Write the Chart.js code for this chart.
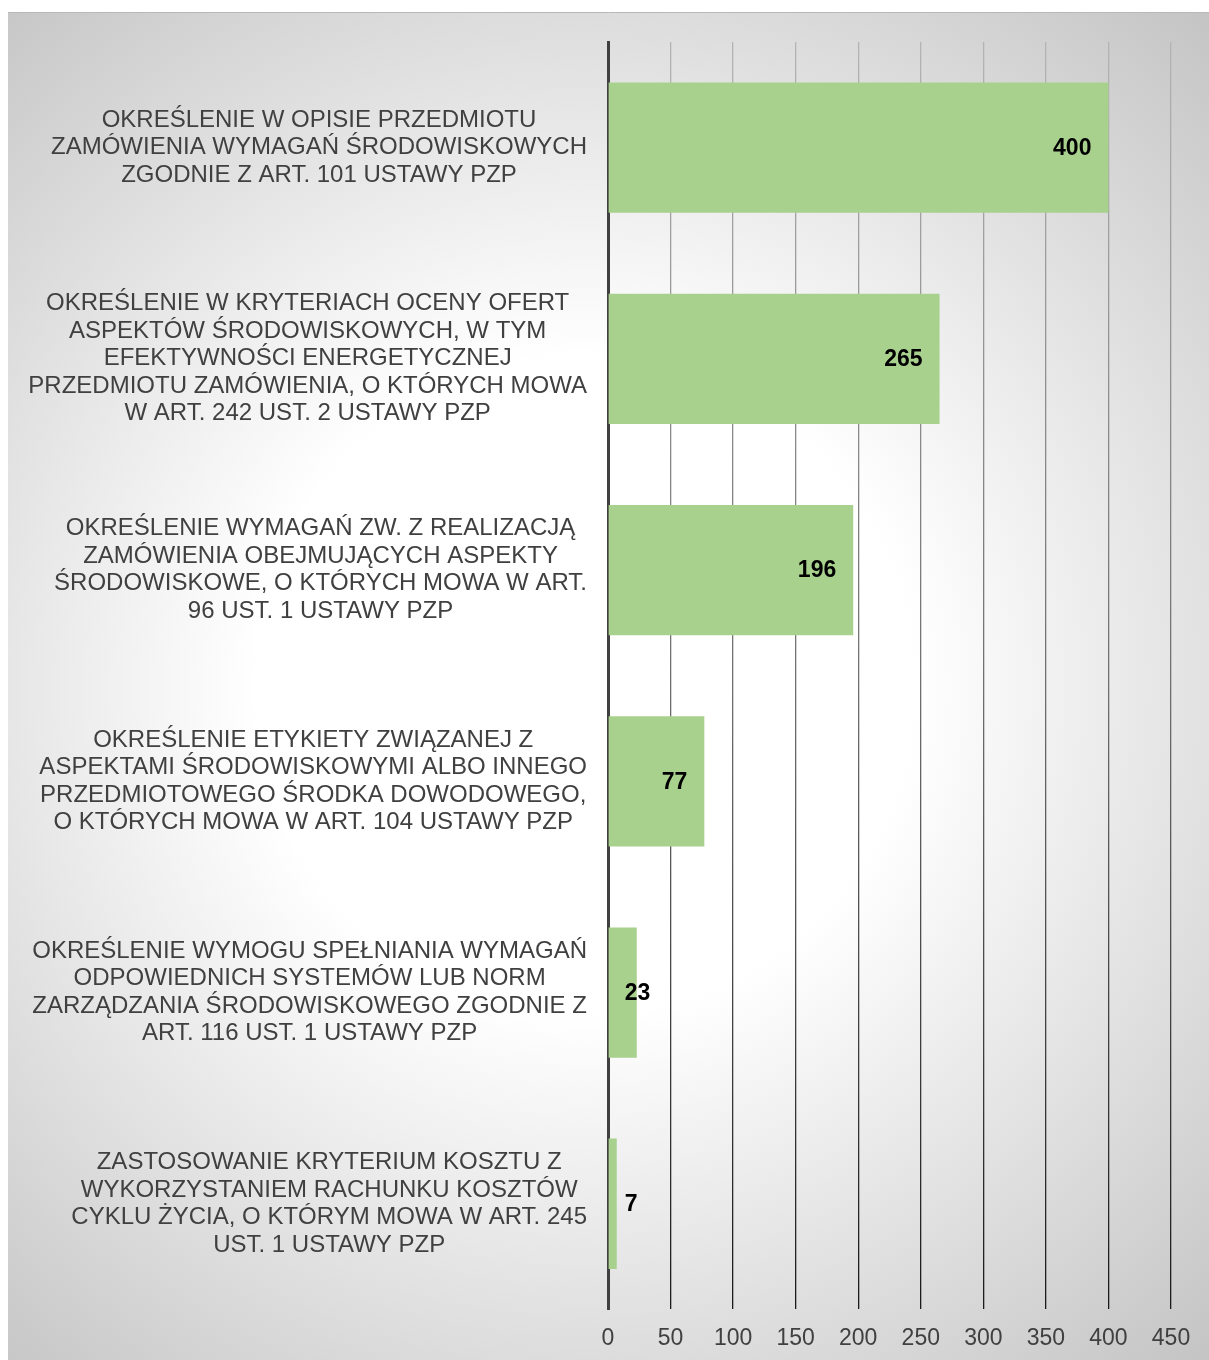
<!DOCTYPE html>
<html>
<head>
<meta charset="utf-8">
<script src="https://cdn.jsdelivr.net/npm/chart.js@4/dist/chart.umd.min.js"></script>
<style>
    body { margin: 0; background: #fff; }
    #wrap { position: absolute; left: 8px; top: 12px; width: 1201px; height: 1348px; overflow: hidden; }
</style>
</head>
<body>
<div id="wrap"><canvas id="eco_chart" width="1201" height="1363"></canvas></div>
<script>
// kategorie (podzielone na linie) i liczba postępowań
const categories = [
    ["OKREŚLENIE W OPISIE PRZEDMIOTU", "ZAMÓWIENIA WYMAGAŃ ŚRODOWISKOWYCH", "ZGODNIE Z ART. 101 USTAWY PZP"],
    ["OKREŚLENIE W KRYTERIACH OCENY OFERT", "ASPEKTÓW ŚRODOWISKOWYCH, W TYM", "EFEKTYWNOŚCI ENERGETYCZNEJ", "PRZEDMIOTU ZAMÓWIENIA, O KTÓRYCH MOWA", "W ART. 242 UST. 2 USTAWY PZP"],
    ["OKREŚLENIE WYMAGAŃ ZW. Z REALIZACJĄ", "ZAMÓWIENIA OBEJMUJĄCYCH ASPEKTY", "ŚRODOWISKOWE, O KTÓRYCH MOWA W ART.", "96 UST. 1 USTAWY PZP"],
    ["OKREŚLENIE ETYKIETY ZWIĄZANEJ Z", "ASPEKTAMI ŚRODOWISKOWYMI ALBO INNEGO", "PRZEDMIOTOWEGO ŚRODKA DOWODOWEGO,", "O KTÓRYCH MOWA W ART. 104 USTAWY PZP"],
    ["OKREŚLENIE WYMOGU SPEŁNIANIA WYMAGAŃ", "ODPOWIEDNICH SYSTEMÓW LUB NORM", "ZARZĄDZANIA ŚRODOWISKOWEGO ZGODNIE Z", "ART. 116 UST. 1 USTAWY PZP"],
    ["ZASTOSOWANIE KRYTERIUM KOSZTU Z", "WYKORZYSTANIEM RACHUNKU KOSZTÓW", "CYKLU ŻYCIA, O KTÓRYM MOWA W ART. 245", "UST. 1 USTAWY PZP"]
];
const counts = [400, 265, 196, 77, 23, 7];
const axisMin = 0;
const axisMax = 450;
const axisStep = 50;

const FONT = "'Liberation Sans', Arial, sans-serif";

// tło z gradientem radialnym
const bgPlugin = {
    id: "bgGradient",
    beforeDraw(chart) {
        let c = chart.ctx;
        let w = chart.width, h = 1348;
        let g = c.createRadialGradient(w * 0.48, h * 0.5, 0, w * 0.48, h * 0.5, Math.hypot(w, h) * 0.52);
        g.addColorStop(0, "#ffffff");
        g.addColorStop(0.35, "#ffffff");
        g.addColorStop(1, "#c2c2c2");
        c.save();
        c.fillStyle = g;
        c.fillRect(0, 0, w, chart.height);
        c.strokeStyle = "#b8b8b8";
        c.lineWidth = 1;
        c.beginPath();
        c.moveTo(0, 0.5);
        c.lineTo(w, 0.5);
        c.stroke();
        c.restore();
    }
};

// opisy kategorii - każdy blok wyśrodkowany osobno
const catLabels = {
    id: "catLabels",
    afterDraw(chart) {
        let c = chart.ctx;
        let yScale = chart.scales.y;
        let right = chart.chartArea.left - 21;
        c.save();
        c.font = "24px " + FONT;
        c.fillStyle = "#404040";
        c.textAlign = "center";
        c.textBaseline = "middle";
        let lh = 27.5;
        for (let i = 0; i < categories.length; i++) {
            let lines = categories[i];
            let widest = 0;
            lines.forEach(l => { widest = Math.max(widest, c.measureText(l).width); });
            let cx = right - widest / 2;
            let cy = yScale.getPixelForValue(i);
            let y0 = cy - (lines.length - 1) * lh / 2;
            lines.forEach((l, k) => c.fillText(l, cx, y0 + k * lh));
        }
        c.restore();
    }
};

// wartości przy słupkach
const valueLabels = {
    id: "valueLabels",
    afterDatasetsDraw(chart) {
        let c = chart.ctx;
        let meta = chart.getDatasetMeta(0);
        c.save();
        c.font = "bold 23px " + FONT;
        c.fillStyle = "#000";
        c.textAlign = "left";
        c.textBaseline = "middle";
        meta.data.forEach((bar, i) => {
            let txt = String(counts[i]);
            let w = c.measureText(txt).width;
            let x = Math.max(bar.x - 17 - w, bar.base + 16);
            c.fillText(txt, x, bar.y + 1);
        });
        c.restore();
    }
};

let ctx = document.getElementById("eco_chart");
let ecoChart = new Chart(ctx, {
    type: "bar",
    plugins: [bgPlugin, catLabels, valueLabels],
    data: {
        labels: categories.map(l => l.join(" ")),
        datasets: [{
            data: counts,
            backgroundColor: "#a9d18e",
            categoryPercentage: 1,
            barPercentage: 0.617
        }]
    },
    options: {
        responsive: false,
        animation: false,
        indexAxis: "y",
        layout: {
            padding: { left: 600, right: 38, top: 30, bottom: 8 }
        },
        plugins: {
            legend: { display: false },
            tooltip: { enabled: false }
        },
        scales: {
            x: {
                min: axisMin,
                max: axisMax,
                ticks: {
                    stepSize: axisStep,
                    padding: 15,
                    color: "#404040",
                    font: { family: FONT, size: 23 }
                },
                border: { display: false },
                grid: {
                    drawTicks: false,
                    lineWidth: 1.3,
                    color: function (context) {
                        let area = context.chart.chartArea;
                        if (!area) return "#777";
                        let g = context.chart.ctx.createLinearGradient(0, area.top, 0, area.bottom);
                        g.addColorStop(0, "#b4b4b4");
                        g.addColorStop(0.5, "#707070");
                        g.addColorStop(1, "#1a1a1a");
                        return g;
                    }
                }
            },
            y: {
                ticks: { display: false },
                grid: { display: false, drawTicks: false },
                border: { display: true, color: "#404040", width: 3 }
            }
        }
    }
});
</script>
</body>
</html>
